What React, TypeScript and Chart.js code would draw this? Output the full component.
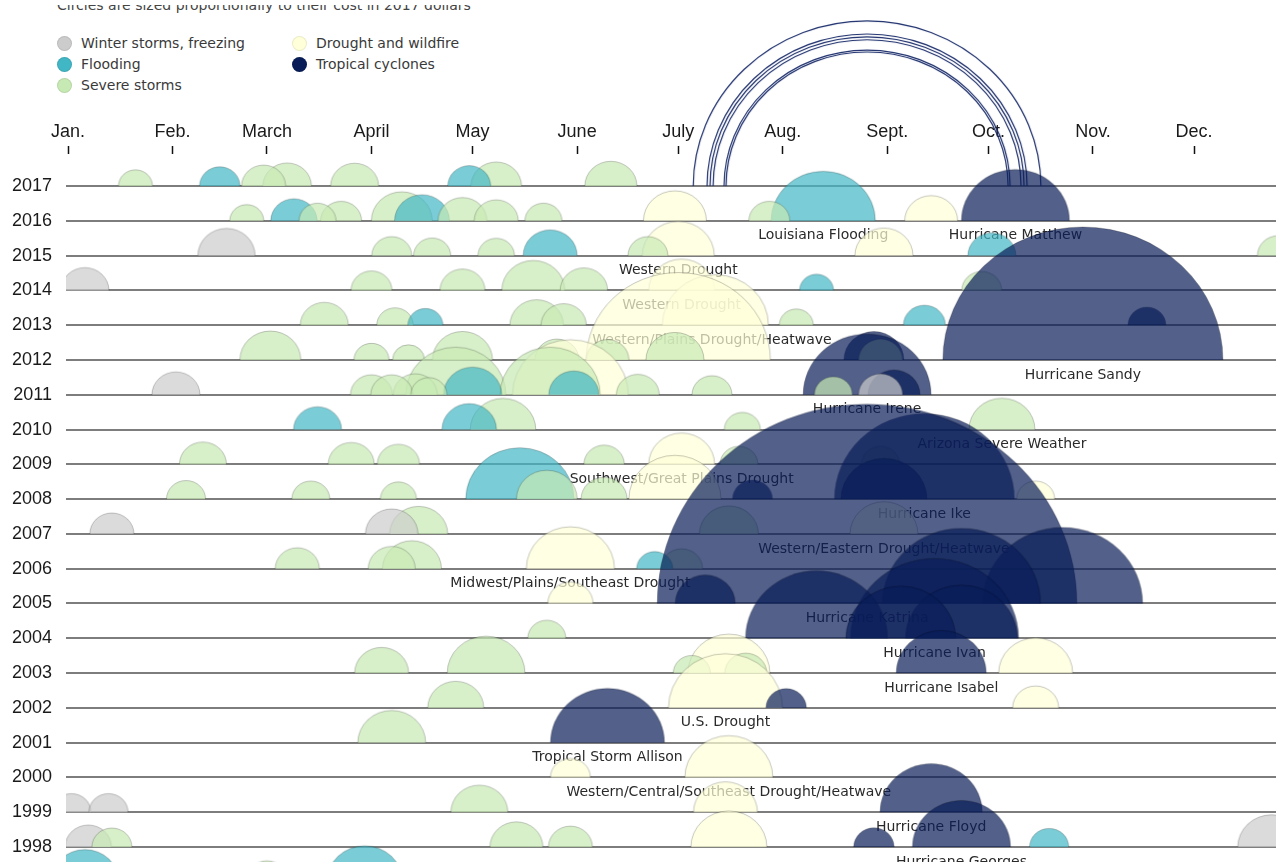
import React, { useEffect, useRef } from "react";
import { Chart, registerables } from "chart.js";

Chart.register(...registerables);

// ---------- data ----------
const monthStarts = [0, 31, 59, 90, 120, 151, 181, 212, 243, 273, 304, 334];
const monthLabels = ["Jan.", "Feb.", "March", "April", "May", "June", "July", "Aug.", "Sept.", "Oct.", "Nov.", "Dec."];
const years = [1997, 1998, 1999, 2000, 2001, 2002, 2003, 2004, 2005, 2006, 2007, 2008, 2009, 2010, 2011, 2012, 2013, 2014, 2015, 2016, 2017];

const categoryNames = ["Winter storms, freezing", "Flooding", "Severe storms", "Drought and wildfire", "Tropical cyclones"];

// [year, day of year, cost in billions of 2017 dollars]
const winterStorms: [number, number, number][] = [
  [2015, 47, 3.2], [2014, 5, 2.25], [2011, 32, 2.25], [2011, 241, 1.9],
  [2007, 13, 1.9], [2007, 96, 2.7], [1999, 1, 1.5], [1999, 12, 1.5],
  [1998, 6, 2.1], [1998, 357, 4.5],
];

const flooding: [number, number, number][] = [
  [2017, 45, 1.6], [2017, 119, 1.8],
  [2016, 67, 2.1], [2016, 105, 2.95], [2016, 224, 10.6],
  [2015, 143, 2.85], [2015, 274, 2.25],
  [2014, 222, 1.13],
  [2013, 106, 1.2], [2013, 254, 1.72],
  [2011, 120, 3.3], [2011, 150, 2.44],
  [2010, 74, 2.25], [2010, 119, 2.9],
  [2008, 134, 11.4],
  [2006, 174, 1.27],
  [1998, 291, 1.5],
  [1997, 5, 4.5], [1997, 88, 5.6],
];

const severeStorms: [number, number, number][] = [
  [2017, 20, 1.13], [2017, 58, 1.9], [2017, 65, 2.3], [2017, 85, 2.25], [2017, 127, 2.5], [2017, 161, 2.65],
  [2016, 53, 1.13], [2016, 74, 1.34], [2016, 81, 1.64], [2016, 99, 3.63], [2016, 117, 2.34], [2016, 127, 1.9], [2016, 141, 1.34], [2016, 208, 1.64],
  [2015, 96, 1.56], [2015, 108, 1.34], [2015, 127, 1.3], [2015, 172, 1.56], [2015, 359, 1.72],
  [2014, 90, 1.64], [2014, 117, 1.98], [2014, 138, 3.88], [2014, 153, 2.2], [2014, 271, 1.56],
  [2013, 76, 2.25], [2013, 97, 1.3], [2013, 139, 2.8], [2013, 147, 2.0], [2013, 216, 1.13],
  [2012, 60, 3.63], [2012, 90, 1.2], [2012, 101, 1.0], [2012, 117, 3.52], [2012, 145, 1.9], [2012, 160, 1.8], [2012, 180, 3.29], [2012, 241, 1.9],
  [2011, 90, 1.72], [2011, 96, 1.72], [2011, 103, 1.9], [2011, 107, 1.27], [2011, 115, 9.8], [2011, 143, 9.8], [2011, 169, 1.8], [2011, 191, 1.56], [2011, 227, 1.41],
  [2010, 129, 4.2], [2010, 200, 1.27], [2010, 277, 4.25],
  [2009, 40, 2.16], [2009, 84, 2.07], [2009, 98, 1.75], [2009, 159, 1.6], [2009, 199, 1.41], [2009, 241, 1.41],
  [2008, 35, 1.49], [2008, 72, 1.41], [2008, 98, 1.27], [2008, 142, 3.6], [2008, 159, 2.07],
  [2007, 104, 3.29], [2007, 196, 3.4],
  [2006, 68, 1.9], [2006, 96, 2.16], [2006, 102, 3.4], [2006, 182, 1.72],
  [2004, 142, 1.41],
  [2003, 93, 2.85], [2003, 124, 5.9], [2003, 185, 1.34], [2003, 201, 1.72],
  [2002, 115, 3.06],
  [2001, 96, 4.5],
  [1999, 122, 3.17],
  [1998, 13, 1.56], [1998, 133, 2.74], [1998, 149, 1.89],
  [1997, 59, 1.9],
];

const droughts: [number, number, number][] = [
  [2016, 180, 3.88], [2016, 256, 2.74],
  [2015, 181, 5.06], [2015, 242, 3.29],
  [2014, 182, 4.25],
  [2013, 192, 11.0],
  [2012, 181, 33.1],
  [2011, 149, 13.1],
  [2009, 182, 4.25],
  [2008, 180, 8.3], [2008, 287, 1.41],
  [2007, 242, 4.5],
  [2006, 149, 7.6],
  [2005, 149, 2.0],
  [2003, 196, 6.57], [2003, 287, 5.35],
  [2002, 195, 12.7], [2002, 287, 2.07],
  [2000, 149, 1.56], [2000, 196, 7.56],
  [1999, 195, 4.0],
  [1998, 196, 5.64],
];

const cyclones: [number, number, number][] = [
  [2016, 281, 11.4],
  [2013, 320, 1.41],
  [2012, 239, 3.52], [2012, 301, 76.6],
  [2011, 237, 16.0], [2011, 245, 2.64],
  [2008, 203, 1.56], [2008, 242, 7.22], [2008, 254, 31.6],
  [2005, 189, 3.52], [2005, 237, 172], [2005, 265, 24.4], [2005, 295, 25],
  [2004, 222, 19.7], [2004, 247, 11.8], [2004, 257, 27.6], [2004, 265, 12.25],
  [2003, 259, 7.9],
  [2002, 213, 1.6],
  [2001, 160, 12.7],
  [1999, 256, 10.2],
  [1998, 239, 1.6], [1998, 265, 9.4],
];

// 2017 hurricanes, drawn as outlines
const hurricanes2017: [number, number, number][] = [
  [2017, 237, 118], [2017, 237, 100], [2017, 237, 96.3], [2017, 237, 92.6], [2017, 237, 79.9], [2017, 237, 77.7],
];

const eventLabels: [number, number, string][] = [
  [2016, 224, "Louisiana Flooding"], [2016, 281, "Hurricane Matthew"],
  [2015, 181, "Western Drought"], [2014, 182, "Western Drought"],
  [2013, 191, "Western/Plains Drought/Heatwave"], [2012, 301, "Hurricane Sandy"],
  [2011, 237, "Hurricane Irene"], [2010, 277, "Arizona Severe Weather"],
  [2009, 182, "Southwest/Great Plains Drought"], [2008, 254, "Hurricane Ike"],
  [2007, 242, "Western/Eastern Drought/Heatwave"], [2006, 149, "Midwest/Plains/Southeast Drought"],
  [2005, 237, "Hurricane Katrina"], [2004, 257, "Hurricane Ivan"],
  [2003, 259, "Hurricane Isabel"], [2002, 195, "U.S. Drought"],
  [2001, 160, "Tropical Storm Allison"], [2000, 196, "Western/Central/Southeast Drought/Heatwave"],
  [1999, 256, "Hurricane Floyd"], [1998, 265, "Hurricane Georges"],
];

// ---------- styles ----------
const typeColors = ["#cccccc", "#41b6c4", "#c7e9b4", "#ffffd9", "#081d58"];
const typeFills = ["rgba(204,204,204,0.7)", "rgba(65,182,196,0.7)", "rgba(199,233,180,0.7)", "rgba(255,255,217,0.7)", "rgba(8,29,88,0.7)"];
const PX_PER_SQRT_BILLION = 16;
const V_SQUASH = 0.95;
const LABEL_FONT = '"DejaVu Sans", Verdana, sans-serif';
const AXIS_FONT = '"Liberation Sans", Arial, sans-serif';

const semiCache = new Map<string, HTMLCanvasElement>();
function semiCircle(r: number, fill: string | null, stroke: string, lw: number): HTMLCanvasElement {
  const key = `${r.toFixed(2)}|${fill}|${stroke}|${lw}`;
  const hit = semiCache.get(key);
  if (hit) return hit;
  const half = Math.ceil(r) + 3;
  const c = document.createElement("canvas");
  c.width = half * 2;
  c.height = half * 2;
  const g = c.getContext("2d")!;
  const ry = r * V_SQUASH;
  if (fill) {
    g.beginPath();
    g.ellipse(half, half, r, ry, 0, Math.PI, 2 * Math.PI);
    g.closePath();
    g.fillStyle = fill;
    g.fill();
  }
  g.beginPath();
  g.ellipse(half, half, r, ry, 0, Math.PI, 2 * Math.PI);
  g.strokeStyle = stroke;
  g.lineWidth = lw;
  g.stroke();
  semiCache.set(key, c);
  return c;
}

const labelPlugin = {
  id: "eventLabels",
  beforeDatasetsDraw(chart: any) {
    const { ctx, scales } = chart;
    ctx.save();
    ctx.font = `14px ${LABEL_FONT}`;
    ctx.fillStyle = "#2a2a2a";
    ctx.textAlign = "center";
    ctx.textBaseline = "middle";
    for (const [yr, d, text] of eventLabels) {
      ctx.fillText(text, scales.x.getPixelForValue(d), scales.y.getPixelForValue(yr) + 15);
    }
    ctx.restore();
  },
};

export default function App() {
  const ref = useRef<HTMLCanvasElement>(null);

  useEffect(() => {
    const canvas = ref.current;
    if (!canvas) return;
    const seriesByType = [winterStorms, flooding, severeStorms, droughts, cyclones];
    const clip = { left: 0, top: false, right: false, bottom: false };

    const datasets: any[] = years.map((yr) => {
      const pts: any[] = [];
      seriesByType.forEach((arr, t) =>
        arr.forEach(([y, d, cost]) => {
          if (y === yr) pts.push({ x: d, y: yr, r: PX_PER_SQRT_BILLION * Math.sqrt(cost), t });
        })
      );
      pts.sort((a, b) => b.r - a.r);
      return {
        label: String(yr),
        data: pts,
        order: yr,
        clip,
        pointStyle: (ctx: any) => {
          const p = ctx.raw;
          if (!p) return "circle";
          return semiCircle(p.r, typeFills[p.t], "rgba(0,0,0,0.22)", 1);
        },
      };
    });

    datasets.push({
      label: "2017 hurricanes",
      data: hurricanes2017.map(([y, d, cost]) => ({ x: d, y, r: PX_PER_SQRT_BILLION * Math.sqrt(cost) })),
      order: 3000,
      clip,
      pointStyle: (ctx: any) => {
        const p = ctx.raw;
        if (!p) return "circle";
        return semiCircle(p.r, null, "#1b2d6b", 1.2);
      },
    });

    const chart = new Chart(canvas, {
      type: "bubble",
      data: { datasets },
      plugins: [labelPlugin],
      options: {
        animation: false,
        responsive: false,
        devicePixelRatio: 1,
        events: [],
        layout: { autoPadding: false, padding: { left: 8, right: 8, top: 0, bottom: 0 } },
        plugins: { legend: { display: false }, tooltip: { enabled: false } },
        scales: {
          x: {
            type: "linear",
            position: "top",
            min: -0.6,
            max: 366,
            afterBuildTicks: (s: any) => {
              s.ticks = monthStarts.map((v) => ({ value: v }));
            },
            afterFit: (s: any) => {
              s.height = 154;
            },
            ticks: {
              autoSkip: false,
              maxRotation: 0,
              padding: 3,
              color: "#1a1a1a",
              font: { family: AXIS_FONT, size: 18 },
              callback: (v: any) => {
                const i = monthStarts.indexOf(Number(v));
                return i >= 0 ? monthLabels[i] : "";
              },
            },
            grid: { drawOnChartArea: false, drawTicks: true, tickLength: 8, tickColor: "#111", tickWidth: 1.5 },
            border: { display: false },
          },
          y: {
            type: "linear",
            min: 1996.477,
            max: 2017.92,
            afterBuildTicks: (s: any) => {
              s.ticks = years.map((v) => ({ value: v }));
            },
            afterFit: (s: any) => {
              s.width = 58;
              s.paddingTop = 0;
              s.paddingBottom = 0;
            },
            ticks: {
              autoSkip: false,
              padding: 14,
              color: "#1a1a1a",
              font: { family: AXIS_FONT, size: 18 },
              callback: (v: any) => String(v),
            },
            grid: { color: "#7d7d7d", lineWidth: 2, drawTicks: false },
            border: { display: false },
          },
        },
      } as any,
    });
    return () => chart.destroy();
  }, []);

  const legendPos = [
    { x: 57, y: 43 },
    { x: 57, y: 64 },
    { x: 57, y: 85 },
    { x: 292, y: 43 },
    { x: 292, y: 64 },
  ];

  return (
    <div style={{ position: "absolute", left: 0, top: 0, width: 1276, height: 862, overflow: "hidden", background: "#fff" }}>
      <div style={{ position: "absolute", left: 0, top: 5, width: 700, height: 12, overflow: "hidden" }}>
        <div
          style={{
            position: "absolute",
            left: 57,
            top: -8,
            font: `14px ${LABEL_FONT}`,
            color: "#444",
            whiteSpace: "nowrap",
            lineHeight: "16px",
          }}
        >
          Circles are sized proportionally to their cost in 2017 dollars
        </div>
      </div>
      {categoryNames.map((name, i) => (
        <div key={name} style={{ position: "absolute", left: legendPos[i].x, top: legendPos[i].y - 8, height: 16, display: "flex", alignItems: "center" }}>
          <span
            style={{
              display: "inline-block",
              flex: "none",
              width: 15,
              height: 15,
              borderRadius: "50%",
              background: typeColors[i],
              boxShadow: "inset 0 0 0 1px rgba(0,0,0,0.08)",
            }}
          />
          <span style={{ marginLeft: 9, font: `14px ${LABEL_FONT}`, color: "#3a3a3a", whiteSpace: "nowrap" }}>{name}</span>
        </div>
      ))}
      <canvas ref={ref} width={1310} height={900} style={{ position: "absolute", left: 0, top: 0, width: 1310, height: 900 }} />
    </div>
  );
}
